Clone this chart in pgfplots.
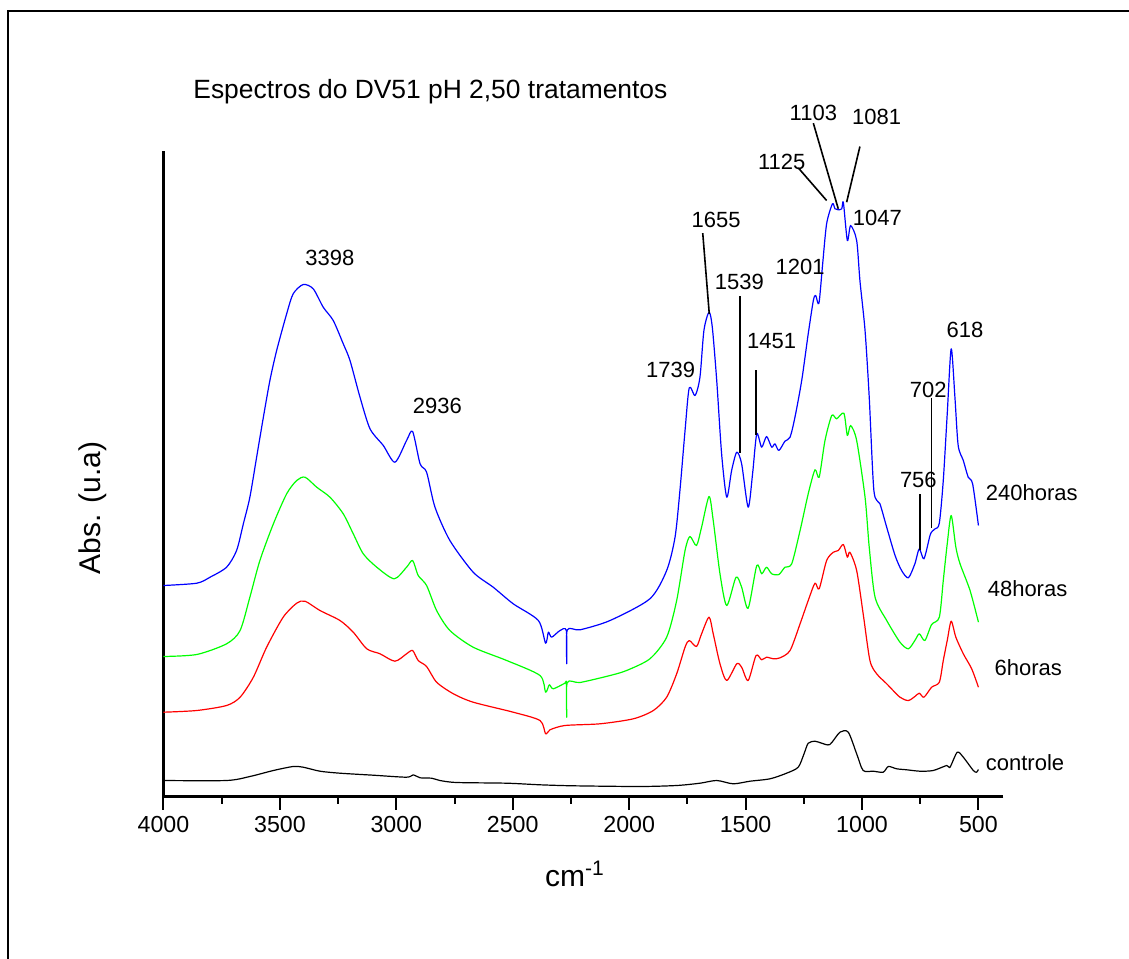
\documentclass[border=0pt]{standalone}
\usepackage{pgfplots}
\pgfplotsset{compat=1.18}
\usepackage{fontspec}
\setmainfont{Liberation Sans}

\newcommand\annot{\fontsize{11}{13}\selectfont}

\begin{document}
\begin{tikzpicture}
\begin{axis}[
  at={(0,0)}, anchor=south west,
  x=0.11643pt, y=0.5pt,
  x dir=reverse,
  xmin=393, xmax=4000, ymin=0, ymax=645,
  axis x line=bottom, axis y line=left,
  axis line style={-, line width=1.1pt},
  xtick={500,1000,...,4000},
  minor xtick={750,1250,...,3750},
  ytick={31.8,72.7,113.5,154.3,195.2,236,276.8,317.7,358.5,399.3,440.2,481,521.8,562.6,603.5,644.3},
  yticklabels={},
  tick align=outside,
  major tick length=6.5pt, minor tick length=3.5pt,
  tick style={black, line width=1pt},
  ytick style={xscale=-0.3},
  xticklabel style={font=\fontsize{11.6}{13}\selectfont},
  /pgf/number format/assume math mode=true,
  /pgf/number format/1000 sep={},
  clip=false,
  xlabel={cm\textsuperscript{-1}},
  xlabel style={font=\fontsize{15}{18}\selectfont, anchor=base, at={(axis description cs:0.49,-0.139)}},
  ylabel={Abs. (u.a)},
  ylabel style={font=\fontsize{15}{18}\selectfont, anchor=center, at={(axis description cs:-0.0839,0.447)}},
  every axis plot/.append style={line width=0.6pt, line join=round, smooth, tension=0.45},
]

% 240 horas
\addplot[blue] coordinates {
(4000,211)(3857,213.3)(3800,219.3)(3729,229.3)(3686,246)(3657,272.7)(3629,299.3)(3600,339.3)
(3571,379.3)(3543,416)(3514,446)(3471,482.7)(3443,502.7)(3400,512)(3357,507.7)(3314,489.3)
(3271,476)(3228,452.7)(3199,436)(3156,399.3)(3113,367.7)(3056,351)(3006,334.3)(2956,356)
(2930,365)(2898,332.7)(2870,324.3)(2834,289.3)(2770,256)(2670,224.3)(2584,209.3)(2498,192.7)
(2390,176)(2359,153.3)(2347,164.3)(2333,159.3)(2297,166)(2270,166)(2268,132.7)(2266,166.5)
(2211,166.7)(2082,176)(1911,197.7)(1839,226)(1803,259.3)(1782,306)(1760,366)(1742,408.7)
(1717,401)(1696,419.3)(1679,466)(1657,484.3)(1643,469.3)(1624,416)(1603,342.7)(1581,299.3)
(1560,326)(1538,344.3)(1517,332.7)(1489,289.3)(1470,322.7)(1452,362.7)(1431,349.3)(1410,360)
(1388,349.3)(1374,352.7)(1357,346)(1331,355.3)(1309,359.3)(1288,379.3)(1259,416)(1231,462.7)
(1209,496)(1199,501)(1185,493.3)(1169,532.7)(1152,572.7)(1127,592.7)(1116,587.7)(1102,586.7)
(1087,587.7)(1080,594)(1063,556)(1049,571)(1023,556)(1009,516)(987,466)(969,399.3)(949,306)
(923,292.7)(894,269.3)(858,241)(830,226)(801,218.7)(773,232.7)(754,247.7)(734,237.7)(708,261)
(698,265.3)(686,267.7)(668,273.3)(651,316)(634,382.7)(617,447.7)(601,399.3)(587,351)(565,336)
(544,319.3)(525,312.7)(500,271)
};

% 48 horas
\addplot[green] coordinates {
(4000,140)(3857,142)(3729,152.7)(3671,166)(3629,199.3)(3586,236)(3528,272.7)(3471,302.7)
(3428,316)(3392,319.3)(3342,309.3)(3285,299.3)(3228,282.7)(3185,262.7)(3142,242.7)(3084,229.3)
(3009,217.7)(2956,229.3)(2930,236)(2906,221)(2870,211)(2827,186)(2770,166)(2670,149.3)
(2526,136)(2383,121)(2359,104.3)(2343,111.7)(2326,107.7)(2276,113.3)(2270,113.5)(2268,79.3)
(2266,113.8)(2211,114)(2082,121)(2011,126)(1911,137.7)(1839,159.3)(1796,196)(1760,246)
(1739,260)(1711,251)(1689,269.3)(1657,300)(1639,276)(1610,222.7)(1581,191)(1541,219.3)
(1517,209.3)(1489,188.3)(1452,231)(1431,222.7)(1410,229.3)(1388,222.7)(1357,222)(1331,229.3)
(1302,232.7)(1266,266)(1231,302.7)(1202,326.7)(1184,319.3)(1159,356)(1130,381)(1109,377.7)
(1078,383.3)(1063,361)(1049,371)(1023,356)(987,299.3)(969,249.3)(944,199.3)(894,176)
(837,154.3)(801,147.7)(773,156)(754,162.7)(730,156)(701,172)(668,179.3)(651,216)(634,252.7)
(617,281)(597,249.3)(579,232.7)(536,206)(500,174.3)
};

% 6 horas
\addplot[red] coordinates {
(4000,84.3)(3857,86)(3729,91)(3671,99.3)(3614,119.3)(3557,149.3)(3486,179.3)(3428,193.3)
(3392,195.3)(3328,186)(3242,176)(3185,164.3)(3127,147.7)(3070,142.7)(3006,135.3)(2956,142.7)
(2930,146)(2906,136)(2870,130)(2827,114.3)(2755,102.7)(2670,94.3)(2498,84.3)(2383,76)
(2359,62.7)(2340,66.7)(2276,71)(2125,72.7)(1982,77.7)(1896,86)(1839,99.3)(1796,122.7)
(1760,149.3)(1742,156)(1711,150)(1689,162.7)(1657,179.3)(1639,162.7)(1610,132.7)(1581,116)
(1538,132.7)(1517,129.3)(1489,116)(1455,141)(1431,136.7)(1410,139.3)(1381,137.7)(1352,138.7)
(1309,146)(1266,172.7)(1231,196)(1202,213.3)(1184,207.7)(1152,236)(1123,244.3)(1102,246)
(1080,252)(1063,239.3)(1052,244.3)(1023,226)(995,182.7)(966,136)(937,122.7)(894,112.7)
(837,99.3)(801,96)(773,100)(754,103.3)(734,99.3)(701,109.3)(668,114.3)(651,136)(634,156)
(617,175.3)(597,159.3)(565,142.7)(529,127.7)(500,109.3)
};

% controle
\addplot[black] coordinates {
(4000,16)(3729,16)(3629,20)(3528,26)(3443,30)(3400,29.3)(3328,25.3)(3242,23.3)(3099,21.3)
(2956,19.3)(2927,21.7)(2898,18.7)(2848,18.3)(2813,16)(2741,14)(2526,13.3)(2383,11.7)
(2240,10.7)(1954,10)(1796,11)(1696,13.3)(1624,16)(1553,12.7)(1481,15.3)(1395,17.7)
(1324,23.3)(1274,29.3)(1249,42.7)(1231,53.3)(1202,55.3)(1173,53.3)(1138,52)(1095,64.3)
(1059,64.3)(1023,42.7)(995,26)(952,25.3)(909,24.3)(887,30)(851,27.7)(808,26.7)(751,25.3)
(694,26)(636,31)(622,29.3)(591,44.3)(565,39.3)(522,26)(508,24.3)(500,27)
};

% peak assignments
\begin{scope}[line width=0.8pt]
\draw (axis cs:1684,563.3) -- (axis cs:1656,482.7);
\draw (axis cs:1524,500) -- (axis cs:1524,343.3);
\draw (axis cs:1455,426) -- (axis cs:1455,361);
\draw (axis cs:1274,628.7) -- (axis cs:1152,596);
\draw (axis cs:1209,673.3) -- (axis cs:1102,587.7);
\draw (axis cs:1009,650) -- (axis cs:1066,594.3);
\draw (axis cs:701,398.7) -- (axis cs:701,268.7);
\draw (axis cs:751,302) -- (axis cs:751,246.7);
\end{scope}

\begin{scope}[every node/.style={font=\annot, inner sep=0pt}]
\node at (axis cs:3285,539) {3398};
\node at (axis cs:2824,391) {2936};
\node at (axis cs:1822,427) {1739};
\node at (axis cs:1627,576.7) {1655};
\node at (axis cs:1527,514.3) {1539};
\node at (axis cs:1388,455) {1451};
\node at (axis cs:1266,529.3) {1201};
\node at (axis cs:1345,634.3) {1125};
\node at (axis cs:1209,683.7) {1103};
\node at (axis cs:937,679.3) {1081};
\node at (axis cs:934,578.7) {1047};
\node at (axis cs:558,466.7) {618};
\node at (axis cs:716,406.7) {702};
\node at (axis cs:758,317) {756};
\node at (axis cs:271,304.3) {240horas};
\node at (axis cs:289,207.7) {48horas};
\node at (axis cs:286,129.3) {6horas};
\node at (axis cs:300,34.3) {controle};
\end{scope}
\end{axis}

\node[anchor=west, font=\fontsize{13.2}{15}\selectfont, inner sep=0pt] at (14.75pt,352.25pt)
  {Espectros do DV51 pH 2,50 tratamentos};

% outer frame
\draw[line width=1pt] (-77.75pt,-90pt) -- (-77.75pt,392.75pt) -- (495pt,392.75pt);

\pgfresetboundingbox
\path[use as bounding box] (-81.75pt,-80.75pt) rectangle (482.75pt,398.25pt);
\end{tikzpicture}
\end{document}
